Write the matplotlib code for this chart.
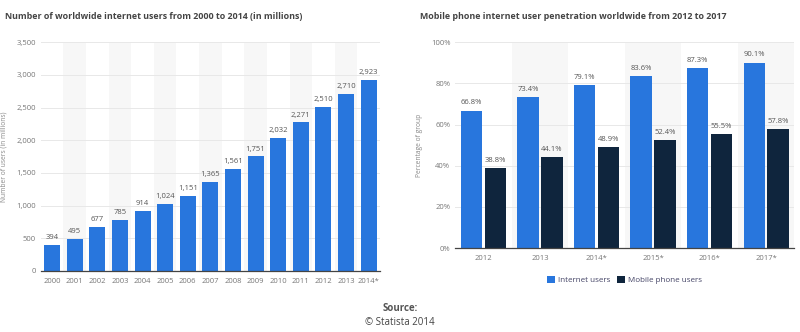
import numpy as np
import matplotlib.pyplot as plt

plt.rcParams['font.family'] = ['Open Sans', 'DejaVu Sans']

years = ["2000", "2001", "2002", "2003", "2004", "2005", "2006", "2007",
         "2008", "2009", "2010", "2011", "2012", "2013", "2014*"]
users = [394, 495, 677, 785, 914, 1024, 1151, 1365, 1561, 1751, 2032,
         2271, 2510, 2710, 2923]

pen_years = ["2012", "2013", "2014*", "2015*", "2016*", "2017*"]
internet_pct = [66.8, 73.4, 79.1, 83.6, 87.3, 90.1]
mobile_pct = [38.8, 44.1, 48.9, 52.4, 55.5, 57.8]

blue = "#2876dd"
navy = "#0f253d"
band = "#f7f7f7"
grid = "#e8e8e8"
tick_col = "#777777"
lab_col = "#555555"

fig = plt.figure(figsize=(8, 3.32), dpi=100)


def style(ax, n):
    for i in range(1, n, 2):
        ax.axvspan(i - 0.5, i + 0.5, color=band, zorder=0, lw=0)
    ax.yaxis.grid(True, color=grid, lw=0.7, zorder=0.5)
    ax.set_axisbelow(True)
    for s in ["top", "right", "left"]:
        ax.spines[s].set_visible(False)
    ax.spines["bottom"].set_color("#444444")
    ax.spines["bottom"].set_linewidth(0.9)
    ax.tick_params(axis="both", length=0, labelsize=5.5, colors=tick_col)
    ax.tick_params(axis="x", pad=5)
    ax.set_xlim(-0.5, n - 0.5)


# left chart
ax1 = fig.add_axes([0.051, 0.184, 0.424, 0.689])
x = np.arange(len(years))
ax1.bar(x, users, width=0.71, color=blue, zorder=2)
for xi, v in zip(x, users):
    ax1.text(xi, v + 60, f"{v:,}", ha="center", va="bottom",
             fontsize=5.5, color=lab_col)
style(ax1, len(years))
ax1.set_ylim(0, 3500)
ax1.set_yticks(np.arange(0, 3501, 500))
ax1.set_yticklabels([f"{t:,}" for t in range(0, 3501, 500)])
ax1.set_xticks(x)
ax1.set_xticklabels(years)
ax1.set_ylabel("Number of users (in millions)", fontsize=4.8, color="#888888",
               labelpad=6)
fig.text(0.006, 0.95, "Number of worldwide internet users from 2000 to 2014 (in millions)",
         fontsize=6.4, fontweight="bold", color="#444444", va="center")

# right chart
ax2 = fig.add_axes([0.569, 0.253, 0.424, 0.62])
x2 = np.arange(len(pen_years))
w = 0.38
ax2.bar(x2 - 0.21, internet_pct, width=w, color=blue, zorder=2,
        label="Internet users")
ax2.bar(x2 + 0.21, mobile_pct, width=w, color=navy, zorder=2,
        label="Mobile phone users")
for xi, a, b in zip(x2, internet_pct, mobile_pct):
    ax2.text(xi - 0.21, a + 2, f"{a:.1f}%", ha="center", va="bottom",
             fontsize=5.5, color=lab_col)
    ax2.text(xi + 0.21, b + 2, f"{b:.1f}%", ha="center", va="bottom",
             fontsize=5.5, color=lab_col)
style(ax2, len(pen_years))
ax2.set_ylim(0, 100)
ax2.set_yticks(range(0, 101, 20))
ax2.set_yticklabels([f"{t}%" for t in range(0, 101, 20)])
ax2.set_xticks(x2)
ax2.set_xticklabels(pen_years)
ax2.set_ylabel("Percentage of group", fontsize=4.8, color="#888888", labelpad=6)
ax2.legend(loc="upper center", bbox_to_anchor=(0.5, -0.1), ncol=2,
           frameon=False, fontsize=5.8, handlelength=1.0, handleheight=1.0,
           columnspacing=0.8, handletextpad=0.4, labelcolor="#444466")
fig.text(0.525, 0.95, "Mobile phone internet user penetration worldwide from 2012 to 2017",
         fontsize=6.4, fontweight="bold", color="#444444", va="center")

fig.text(0.5, 0.072, "Source:", ha="center", va="center", fontsize=7,
         fontweight="bold", color="#555555")
fig.text(0.5, 0.03, "© Statista 2014", ha="center", va="center", fontsize=7,
         color="#444444")

fig.savefig("out.png", dpi=100)
